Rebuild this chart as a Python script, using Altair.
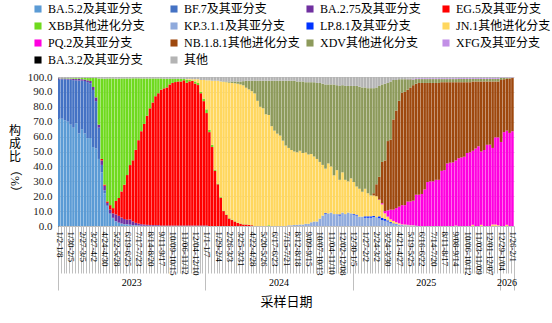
import altair as alt
import pandas as pd

FONT = "Times New Roman, Liberation Serif, Noto Sans CJK SC"

SERIES = ["BA.5.2及其亚分支", "BF.7及其亚分支", "BA.2.75及其亚分支", "EG.5及其亚分支",
          "XBB其他进化分支", "KP.3.1.1及其亚分支", "LP.8.1及其亚分支", "JN.1其他进化分支",
          "PQ.2及其亚分支", "NB.1.8.1其他进化分支", "XDV其他进化分支", "XFG及其亚分支",
          "BA.3.2及其亚分支", "其他"]
COLORS = ["#5B9BD5", "#4472C4", "#7030A0", "#FF0000", "#6FDA1E", "#8FAADC", "#0033FF",
          "#FFD75E", "#FF00E0", "#9E480E", "#8D9A5B", "#C28FE6", "#000000", "#B4B4B4"]

YEARS = ["2023"] * 52 + ["2024"] * 52 + ["2025"] * 52 + ["2026"] * 5

TICK_LABELS = ["1/2-1/8", "1/30-2/5", "2/27-3/5", "3/27-4/2", "4/24-4/30", "5/22-5/28",
               "6/19-6/25", "7/17-7/23", "8/14-8/20", "9/11-9/17", "10/09-10/15",
               "11/06-11/12", "12/04-12/10", "1/1-1/7", "1/29-2/4", "2/26-3/3", "3/25-3/31",
               "4/22-4/28", "5/20-5/26", "6/17-6/23", "7/15-7/21", "8/12-8/18", "9/09-9/15",
               "10/07-10/13", "11/04-11/10", "12/02-12/08", "12/30-1/5", "1/27-2/2",
               "2/24-3/2", "3/24-3/30", "4/21-4/27", "5/19-5/25", "6/16-6/22", "7/14-7/20",
               "8/11-8/17", "9/08-9/14", "10/06-10/12", "11/03-11/09", "12/01-12/07",
               "12/29-1/04", "1/26-2/1"]

BA52 = [72, 72, 71, 70, 68, 66, 69, 62, 65, 62, 59, 59, 53, 52,
        45, 36, 22, 13, 8, 5, 3, 2, 1.5, 1, 1, 0.8, 0.5, 0.5, 0.3,
        0.2, 0.2, 0.2, 0.2, 0.1, 0.1, 0.1] + [0] * 125

BF7 = [26.5, 26.5, 27.5, 28.3, 30.2, 31.9, 28.8, 35.6, 32.5, 35.3, 37.6, 36.8, 38.3, 31.8,
       21, 5, 2, 1, 0.5, 0.5, 0.3, 0.3, 0.2, 0.2, 0.2, 0.1, 0.1, 0.1, 0.1] + [0] * 132

BA275 = [0.5, 0.5, 0.5, 0.6, 0.6, 0.8, 0.8, 1, 1, 1, 1.2, 1.5, 2, 2.5,
         2, 3, 3, 1.5, 2.5, 3, 4.5, 4.5, 4, 3.5, 3, 3.5, 2.5, 1.5, 1.2,
         1, 0.8, 0.6, 0.5, 0.5, 0.5, 0.5,
         0.3, 0.3, 0.3, 0.3, 0.3, 0.3, 0.3, 0.3, 0.3, 0.3, 0.3, 0.3, 0.3, 0.3, 0.3, 0.3, 0.3] + [0] * 108

EG5 = [0] * 14 + [0, 1, 0.8, 1, 3, 3.5, 9, 12, 17.5, 23, 30, 36.5, 41, 49, 56,
                  62.4, 67.5, 73.2, 78.3, 82.3, 86.5, 88.5, 91.2, 92.1, 92.7, 94.7, 95.7, 96.3,
                  96.7, 96.7, 97.5, 95.8, 96.8, 97, 95.3, 94.3, 88.8, 83.5, 75.5,
                  63, 53, 37, 28, 19, 10, 7.5, 5, 4, 3, 2, 1.5, 1, 1, 0.8, 0.5] + [0] * 92

XBB = [0, 0.2, 0.2, 0.3, 0.4, 0.5, 0.6, 0.6, 0.8, 1, 1.5, 2, 6, 13,
       31, 54, 71, 82.5, 85, 87, 82, 80, 75.8, 71.3, 64.8, 58.1, 55, 48, 41.5,
       35.4, 30.5, 25, 20, 16.1, 11.9, 9.9, 7.5, 6.4, 5.8, 3.8, 2.8, 2.2, 1.8, 1.8, 0.9, 2.3,
       1.1, 0.4, 1.4, 1.4, 0.9, 1.7, 2.5,
       1.5, 1.5, 0.8, 0.5, 0.5, 0.4, 0.3, 0.3, 0.3, 0.2, 0.2, 0.2, 0.2, 0.1, 0.1, 0.1,
       0, 0, 0, 0, 0, 0.5] + [0] * 86

KP311 = [0] * 81 + [0.5, 0.5, 0.7, 0.8, 1, 1, 1.5, 1.5, 2.5, 3, 3,
                    5, 7, 8, 8.5, 9, 8, 8, 7, 9, 8, 9, 8.5, 7.5, 7, 6.3, 6.3, 5.5, 5.5, 5.5, 6, 6,
                    5.2, 4, 3.5, 3, 1.8, 1.2, 1.1, 1, 0.8, 0.5, 0.5, 0.3, 0.3,
                    0.2] + [0] * 34

LP81 = [0] * 94 + [0.6, 0, 0, 0, 0, 0.8, 0, 0, 0, 0, 0.5, 0.6, 0, 0, 1, 1, 1, 0.8, 0,
                   1.3, 1.5, 1.3, 0.8, 0.8, 0.5, 0.3] + [0] * 41

JN1 = [0] * 45 + [0.3, 0.5, 0.8, 1.5, 2.5, 8, 12.5, 19.5,
                  33.3, 43, 59.7, 69, 77.5, 86.3, 88.7, 90.9, 91.7, 92.6, 93.3, 93.3, 93.2, 91.7, 90.8, 89.9,
                  89, 84, 80, 79, 75, 74, 67, 64, 62, 60.7, 57.3, 54, 51.9, 50.5, 49.3, 48.7, 49.5, 48,
                  47.9, 46.5, 45.8, 43.7, 42,
                  38, 34, 29.9, 33.5, 31, 26, 29.5, 23.2, 27, 23, 21, 23.5, 21.5, 18.9, 18.7, 16.7,
                  18.5, 15.5, 14, 13.7, 14,
                  11, 9, 3.7, 2.5, 1.9, 1.7, 1.1, 0.8, 0.3, 0.5, 0.3, 0.2, 0.2,
                  0, 0, 0, 0, 0, 0, 0, 0, 0, 0, 0, 0, 0, 0, 0.3, 0, 0, 0, 0, 0, 0.8, 0, 0, 0.8,
                  0, 0, 0, 1, 1, 0.5, 0, 0, 0.8, 0, 0]

PQ2 = [0] * 113 + [0.3, 0.8, 1.5, 4.2, 6.5, 7.6, 9.5, 11.2, 12.9, 13, 15.6, 16, 16.5,
                   20.8, 21, 21.5, 24.5, 29.5, 30, 30, 31, 31, 37, 37.5, 42, 42.5, 42.7, 43.7,
                   45.5, 46, 46.5, 49, 49.5, 49.7, 52, 53.5, 49.2, 51, 54.5, 54.6, 51.4, 58.5, 59,
                   56.4, 63, 63.2, 62.5, 63.6]

NB181 = [0] * 111 + [1.5, 8,
                     15.2, 27.7, 34, 46.5, 47, 60.5, 65.5, 71, 75.5, 76, 75.1, 76.5, 77.5,
                     74.5, 75, 74.5, 71.5, 66.5, 66, 66, 65, 65, 59.5, 59, 54.5, 54, 53.8, 52.5,
                     51, 50.5, 50, 47.5, 47, 46.5, 45, 43.5, 47, 46, 42.5, 42.4, 44.6, 37.5, 37.5,
                     41.6, 35.5, 34.8, 36.5, 35.7]

XDV = [0] * 58 + [0.3, 0.5, 0.8, 1, 1.2, 1.5, 2, 2.8, 4.7, 5.8, 7,
                  8.5, 13.5, 17.5, 18.5, 22.5, 23, 30.5, 33.5, 35.5, 36.8, 40.2, 43.5, 45.1, 46.5,
                  47.5, 47.5, 46.5, 48, 47.1, 48.5, 48.2, 49.8, 51,
                  53, 54.5, 56.5, 53, 55, 61, 57, 63, 58.5, 63, 64, 62, 64.5, 67.5, 68.5, 70, 68,
                  70.5, 72, 70.5, 65,
                  61, 52, 51.5, 39, 39, 26.5, 20.5, 14.5, 9, 8.5, 7, 5.5, 3.8,
                  3.1, 2.6, 2.6, 2.6, 2.6, 2.6, 2.6, 2.6, 2.6, 2.1, 2.1, 2.1, 2.1, 2.1, 2.1,
                  2.2, 2.2, 2.2, 2.2, 2.2, 1.7, 1.7, 1.7, 1.7, 1.7, 1.7, 1.7, 1.7, 1.7, 1.7,
                  1.4, 0.9, 0.6, 0.4, 0.1]

XFG = [0] * 123 + [0.3, 0.3, 0.5,
                   0.6, 0.6, 0.6, 0.6, 0.6, 0.6, 0.6, 0.6, 0.6, 0.6, 0.6, 0.6, 0.6, 0.6, 0.6,
                   0.6, 0.6, 0.6, 0.6, 0.6, 0.6, 0.6, 0.6, 0.6, 0.6, 0.6, 0.6, 0.6, 0.6, 0.6,
                   0.3, 0.3, 0.3, 0.3, 0.3]

BA32 = [0] * 161

OTHER = [1, 0.8, 0.8, 0.8, 0.8, 0.8, 0.8, 0.8, 0.7, 0.7, 0.7, 0.7, 0.7, 0.7,
         1, 1, 1.2, 1, 1, 1, 1.2, 1.2, 1, 1, 1, 1, 0.9, 0.9, 0.9,
         1, 1, 1, 1, 1, 1, 1, 1, 1.2, 1.2, 1.2, 1.2, 1.2, 1.2, 1.2, 1.3, 1.3, 1.3, 1.5,
         1.5, 1.5, 2, 2, 2.2,
         2.2, 2.5, 2.5, 2.5, 3,
         3, 3, 3, 3, 3, 3, 3, 2.8, 2.5, 2.5, 2.5,
         2.5, 2.5, 2.5, 2.5, 2.5, 2.5, 2.5, 2.5, 2.5, 2.5, 2.5, 2.5, 2.5, 2.5, 2.5,
         3, 3, 3, 3.5, 3.5, 3.5, 3.5, 4,
         4, 4.5, 5, 5, 5, 5, 5.5, 6, 5.5, 6, 6, 6,
         6, 6, 6.5, 7, 7, 7.5, 7.5, 7.5, 7,
         6, 5, 4.5, 4, 3, 2, 2, 1.5, 1.5, 1.5, 1.2, 1.2, 1.2,
         0.8, 0.8, 0.8, 0.8, 0.8, 0.8, 0.8, 0.8, 0.8, 0.8, 0.8, 0.8, 0.8, 0.8, 0.8,
         0.7, 0.7, 0.7, 0.7, 0.7, 0.7, 0.7, 0.7, 0.7, 0.7, 0.7, 0.7, 0.7, 0.7, 0.7,
         0.3, 0.3, 0.3, 0.3, 0.3]

VALUES = [BA52, BF7, BA275, EG5, XBB, KP311, LP81, JN1, PQ2, NB181, XDV, XFG, BA32, OTHER]
N = len(YEARS)
for s, v in zip(SERIES, VALUES):
    assert len(v) == N, (s, len(v))

rows = []
for k, (name, vals) in enumerate(zip(SERIES, VALUES)):
    for i, v in enumerate(vals):
        rows.append({"idx": i, "year": YEARS[i], "variant": name, "ord": k, "val": v})
df = pd.DataFrame(rows)

W, H = 456, 149
year_edges = [0, 52, 104, 156, N]
tick_vals = list(range(0, N + 1)) + [i + 0.5 for i in range(0, N, 4)]
js_labels = "[" + ",".join("'" + t + "'" for t in TICK_LABELS) + "]"

x_scale = alt.Scale(domain=[0, N], nice=False, zero=False)
x_axis = alt.Axis(
    values=tick_vals,
    labelExpr="datum.value % 1 === 0 ? '' : " + js_labels + "[floor(datum.value / 4)]",
    labelAngle=90, labelAlign="left", labelBaseline="middle",
    labelPadding=-42, labelFontSize=9, labelFont=FONT, labelColor="#000000",
    labelOverlap=False, labelBound=False, labelFlush=False,
    tickOpacity={"condition": {"test": "datum.value % 1 === 0", "value": 1}, "value": 0},
    tickSize={"condition": {"test": "indexof(" + str(year_edges) + ", datum.value) >= 0", "value": 64},
              "value": 47},
    tickColor="#BFBFBF", tickWidth=1,
    domainColor="#BFBFBF", grid=False,
    title="采样日期", titleFont=FONT, titleFontSize=13, titleFontWeight="normal",
    titleY=75, titleBaseline="middle", titleColor="#000000",
)

y_axis = alt.Axis(
    values=[i / 10 for i in range(11)],
    labelExpr="format(datum.value * 100, '.1f')",
    labelFont=FONT, labelFontSize=11, labelColor="#222222", labelPadding=6,
    ticks=False, domain=True, domainColor="#404040",
    grid=True, gridColor="#D9D9D9", title=None,
)

legend = alt.Legend(
    orient="none", legendX=-26, legendY=-74, columns=4, direction="horizontal",
    gridAlign="all", columnPadding=4, rowPadding=5, symbolType="square", symbolSize=50,
    symbolStrokeWidth=0, labelFont=FONT, labelFontSize=12, labelColor="#000000",
    labelOffset=4, title=None, padding=0, labelLimit=300,
)

bars = alt.Chart(df).transform_calculate(
    idx1="datum.idx + 1"
).transform_stack(
    stack="val", groupby=["idx"], as_=["y0", "y1"], offset="normalize",
    sort=[alt.SortField("ord", order="ascending")],
).mark_bar(x2Offset=-0.3, strokeWidth=0).encode(
    x=alt.X("idx:Q", scale=x_scale, axis=x_axis),
    x2="idx1:Q",
    y=alt.Y("y0:Q", scale=alt.Scale(domain=[0, 1], nice=False), axis=y_axis),
    y2="y1:Q",
    color=alt.Color("variant:N", scale=alt.Scale(domain=SERIES, range=COLORS), legend=legend),
)

years = alt.Chart(df).transform_filter("datum.ord == 0").transform_calculate(
    xc="datum.idx + 0.5"
).transform_aggregate(
    xm="mean(xc)", groupby=["year"]
).mark_text(font=FONT, fontSize=10, color="#000000", baseline="middle", align="center").encode(
    x=alt.X("xm:Q", scale=x_scale, axis=x_axis), y=alt.value(206), text="year:N"
)

one = pd.DataFrame({"a": [0]})
ytitle1 = alt.Chart(one).mark_text(
    font=FONT, fontSize=12, lineBreak="\n", lineHeight=13, align="center", baseline="top",
    color="#000000", text="构\n成\n比"
).encode(x=alt.value(-43), y=alt.value(49))
ytitle2 = alt.Chart(one).mark_text(
    font=FONT, fontSize=12, angle=90, align="center", baseline="middle",
    color="#000000", text="（%）"
).encode(x=alt.value(-43), y=alt.value(104))

chart = alt.layer(bars, years, ytitle1, ytitle2).properties(
    width=W, height=H, autosize="none",
    padding={"left": 58, "top": 77, "right": 38, "bottom": 97},
    background="white",
).configure_view(stroke=None)

chart.save("out.html", embed_options={"renderer": "svg", "actions": False})
